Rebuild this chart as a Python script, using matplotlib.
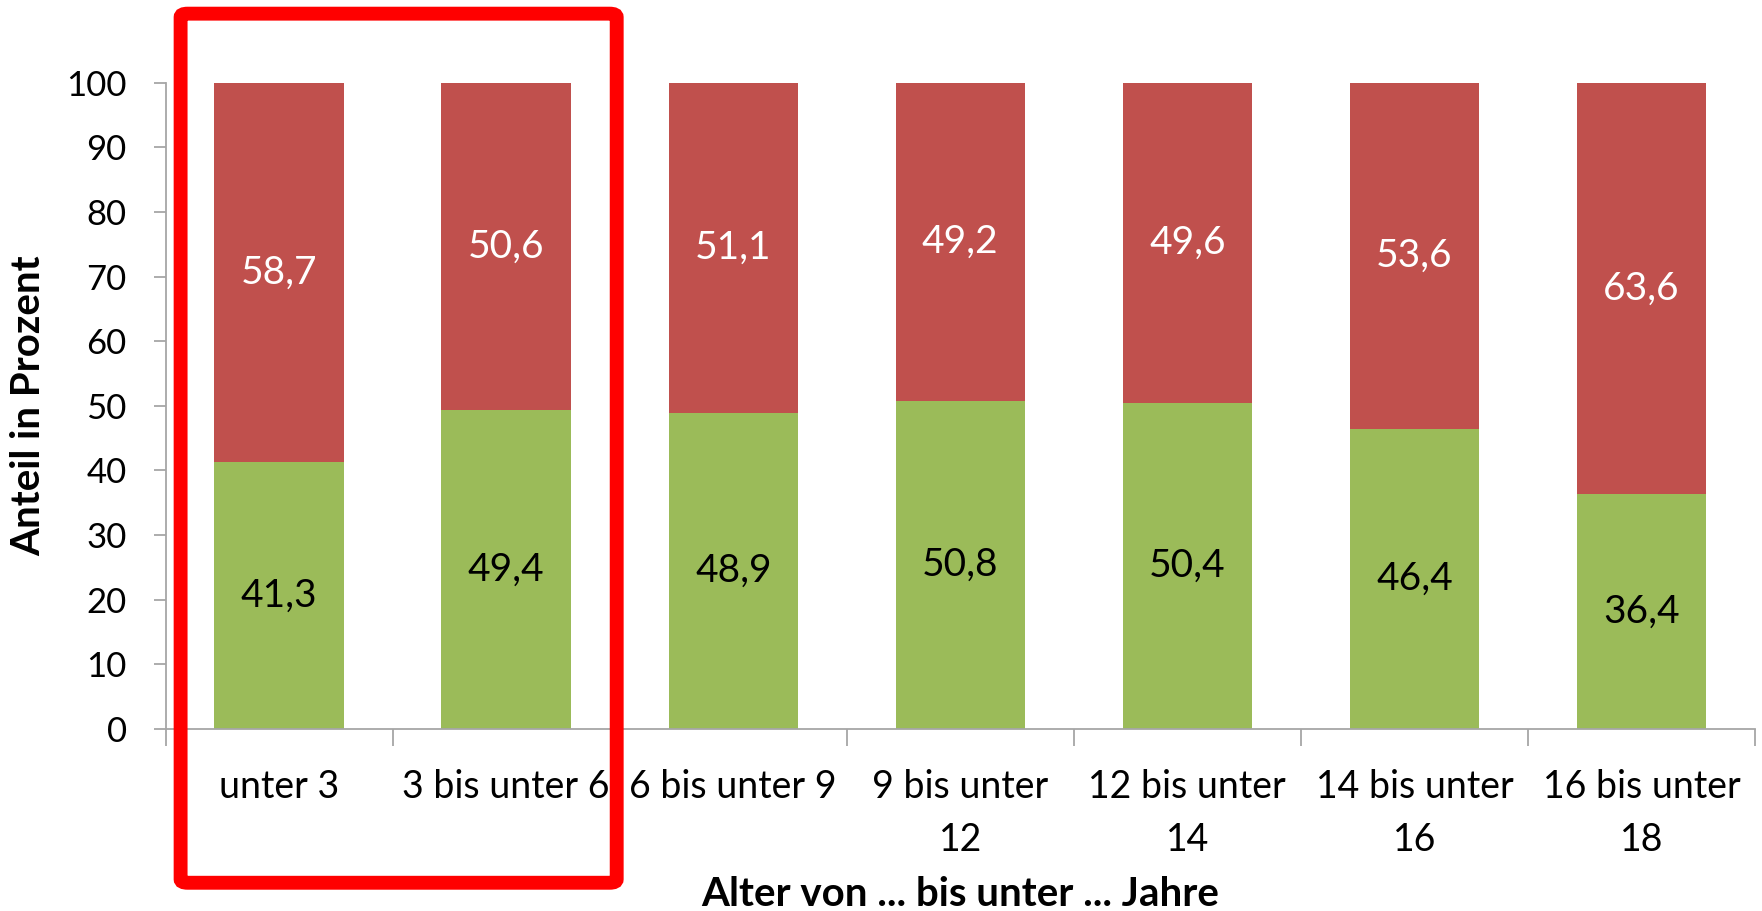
import matplotlib
matplotlib.use("Agg")
import matplotlib.pyplot as plt
from matplotlib.patches import FancyBboxPatch
import numpy as np

plt.rcParams['font.family'] = ['Lato', 'DejaVu Sans']

# data
categories = ["unter 3", "3 bis unter 6", "6 bis unter 9", "9 bis unter\n12",
              "12 bis unter\n14", "14 bis unter\n16", "16 bis unter\n18"]
green_vals = [41.3, 49.4, 48.9, 50.8, 50.4, 46.4, 36.4]
red_vals = [58.7, 50.6, 51.1, 49.2, 49.6, 53.6, 63.6]

GREEN = "#9BBB59"
RED = "#C0504D"
GRAY = "#A6A6A6"

fig = plt.figure(figsize=(17.62, 9.11), dpi=100)
ax = fig.add_axes([0.094, 0.2, 0.902, 0.709])

x = np.arange(len(categories))
w = 0.57
ax.bar(x, green_vals, w, color=GREEN)
ax.bar(x, red_vals, w, bottom=green_vals, color=RED)

for i in range(len(x)):
    ax.text(x[i], green_vals[i] / 2, f"{green_vals[i]:.1f}".replace(".", ","),
            ha="center", va="center", fontsize=28, color="black")
    ax.text(x[i], green_vals[i] + red_vals[i] / 2, f"{red_vals[i]:.1f}".replace(".", ","),
            ha="center", va="center", fontsize=28, color="white")

ax.set_xlim(-0.5, len(x) - 0.5)
ax.set_ylim(0, 100)
ax.set_yticks(range(0, 101, 10))
ax.tick_params(axis="y", labelsize=25, length=9, color=GRAY, width=1.3, pad=19)

ax.set_xticks(x)
ax.set_xticklabels(categories, fontsize=27, linespacing=1.6, va="top")
ax.set_xticks(np.arange(-0.5, len(x)), minor=True)
ax.tick_params(axis="x", which="major", length=0, pad=29)
ax.tick_params(axis="x", which="minor", length=12, color=GRAY, width=1.3)

for s in ["top", "right"]:
    ax.spines[s].set_visible(False)
for s in ["left", "bottom"]:
    ax.spines[s].set_color(GRAY)
    ax.spines[s].set_linewidth(1.3)

ax.set_ylabel("Anteil in Prozent", fontsize=29, fontweight="bold", labelpad=14)
fig.text(0.545, 0.018, "Alter von ... bis unter ... Jahre", ha="center", va="center",
         fontsize=29, fontweight="bold")

# red highlight box
box = FancyBboxPatch((0.1025, 0.031), 0.2475, 0.954, boxstyle="round,pad=0,rounding_size=0.004",
                     transform=fig.transFigure, fill=False, edgecolor="#FF0000",
                     linewidth=10, clip_on=False)
fig.patches.append(box)

fig.savefig("out.png", dpi=100)
